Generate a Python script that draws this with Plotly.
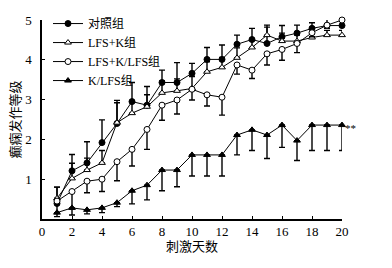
import plotly.graph_objects as go

days = list(range(1, 21))

ctrl = [0.39, 1.21, 1.41, 1.92, 2.40, 2.95, 2.86, 3.43, 3.43, 3.66, 4.01, 4.01, 4.39, 4.51, 4.41, 4.58, 4.67, 4.79, 4.86, 4.86]
ctrl_err = [0.41, 0.41, 0.53, 0.57, 0.58, 0.48, 0.47, 0.31, 0.50, 0.25, 0.30, 0.36, 0.23, 0.28, 0.46, 0.28, 0.20, 0.14, 0.16, 0.0]

lfsk = [0.52, 1.02, 1.23, 1.41, 2.42, 2.66, 2.82, 3.17, 3.22, 3.28, 3.70, 3.81, 4.05, 4.31, 4.62, 4.47, 4.47, 4.56, 4.62, 4.62]
lfsk_err = [0.28, 0.38, 0.30, 0.31, 0.50, 0.30, 0.30, 0.30, 0.30, 0.30, 0.25, 0.25, 0.25, 0.20, 0.20, 0.20, 0.15, 0.15, 0.12, 0.12]

lfskl = [0.45, 0.69, 0.95, 1.00, 1.44, 1.75, 2.25, 2.86, 2.99, 3.26, 3.12, 3.06, 3.87, 3.74, 4.15, 4.26, 4.41, 4.68, 4.87, 5.00]
lfskl_err = [0.30, 0.44, 0.29, 0.31, 0.48, 0.42, 0.50, 0.38, 0.35, 0.27, 0.28, 0.45, 0.23, 0.21, 0.28, 0.27, 0.23, 0.10, 0.08, 0.0]

kl = [0.16, 0.28, 0.23, 0.28, 0.41, 0.71, 0.85, 1.23, 1.23, 1.61, 1.61, 1.61, 2.11, 2.24, 2.11, 2.36, 1.97, 2.36, 2.36, 2.36]
kl_err = [0.10, 0.18, 0.10, 0.12, 0.10, 0.33, 0.37, 0.52, 0.42, 0.53, 0.53, 0.53, 0.50, 0.52, 0.59, 0.56, 0.50, 0.64, 0.64, 0.64]

names = ["对照组", "LFS+K组", "LFS+K/LFS组", "K/LFS组"]
x_ticks = [0, 2, 4, 6, 8, 10, 12, 14, 16, 18, 20]
y_ticks = [1, 2, 3, 4, 5]

FONT = "Liberation Serif, Noto Sans CJK SC, serif"

fig = go.Figure()

def add(y, err, name, symbol, fill, up):
    zeros = [0] * len(err)
    ey = dict(type="data", symmetric=False,
              array=err if up else zeros, arrayminus=zeros if up else err,
              color="black", thickness=1.4, width=3)
    fig.add_trace(go.Scatter(
        x=days, y=y, name=name, mode="lines+markers",
        line=dict(color="black", width=1),
        marker=dict(symbol=symbol, size=6, color=fill, line=dict(color="black", width=1)),
        error_y=ey, cliponaxis=False,
    ))

add(ctrl, ctrl_err, names[0], "circle", "black", True)
add(lfsk, lfsk_err, names[1], "triangle-up", "white", True)
add(lfskl, lfskl_err, names[2], "circle", "white", False)
add(kl, kl_err, names[3], "triangle-up", "black", False)

fig.add_annotation(x=20, y=2.36, text="**", showarrow=False, xanchor="left", xshift=1, yshift=-3,
                   font=dict(family=FONT, size=11, color="black"))

axis_common = dict(ticks="inside", ticklen=3, tickcolor="black", tickwidth=1,
                   showline=True, linecolor="black", linewidth=1.5, showgrid=False, zeroline=False,
                   tickfont=dict(family=FONT, size=13, color="black"))

fig.update_layout(
    template="none",
    width=392, height=268,
    margin=dict(l=42, r=50, t=20, b=49, autoexpand=False),
    paper_bgcolor="white", plot_bgcolor="white",
    font=dict(family=FONT, size=13, color="black"),
    showlegend=True,
    legend=dict(x=0.02, y=1.055, xanchor="left", yanchor="top", bgcolor="rgba(0,0,0,0)",
                font=dict(family=FONT, size=12, color="black"), itemwidth=30, tracegroupgap=0),
    xaxis=dict(range=[0, 20], tickvals=x_ticks, **axis_common,
               title=dict(text="刺激天数", standoff=2, font=dict(family=FONT, size=13, color="black"))),
    yaxis=dict(range=[0, 5], tickvals=y_ticks, ticklabelstandoff=6, **axis_common,
               title=dict(text="癫痫发作等级", standoff=2, font=dict(family=FONT, size=13, color="black"))),
)

fig.write_html("out.html", config={"displayModeBar": False},
               post_script="document.body.style.margin='0';")
